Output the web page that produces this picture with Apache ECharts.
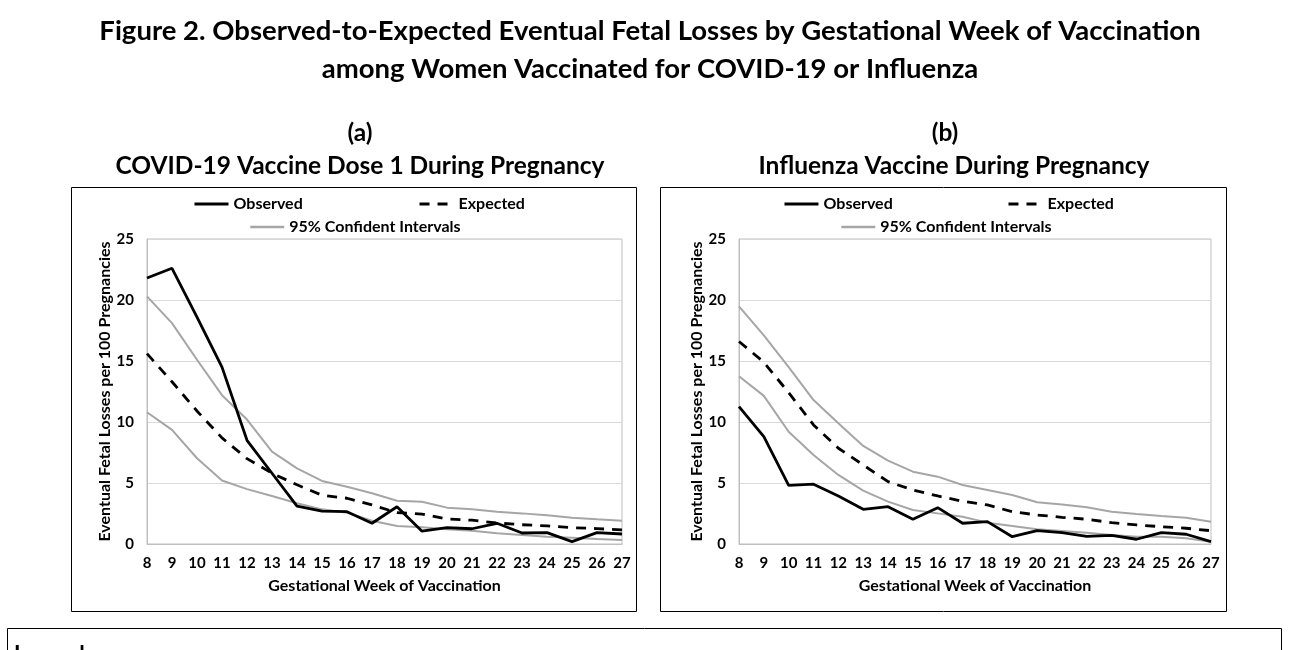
<!DOCTYPE html>
<html><head><meta charset="utf-8">
<script src="https://cdn.jsdelivr.net/npm/echarts@6/dist/echarts.min.js"></script>
<style>html,body{margin:0;padding:0;background:#fff}#c{width:1300px;height:650px}</style>
</head><body><div id="c"></div>
<script>
const weeks = ['8','9','10','11','12','13','14','15','16','17','18','19','20','21','22','23','24','25','26','27'];
const yTicks = [0, 5, 10, 15, 20, 25];

// (a) COVID-19 vaccine dose 1
const covidObserved = [21.8,22.6,18.6,14.5,8.5,5.8,3.1,2.7,2.65,1.7,3.05,1.05,1.35,1.25,1.7,0.9,0.93,0.2,0.93,0.82];
const covidExpected = [15.6,13.3,10.9,8.7,7.0,5.8,4.85,4.0,3.75,3.2,2.57,2.45,2.05,1.95,1.72,1.58,1.48,1.34,1.26,1.15];
const covidUpper    = [20.3,18.1,15.1,12.2,10.2,7.57,6.2,5.17,4.7,4.16,3.55,3.47,2.98,2.84,2.65,2.51,2.35,2.16,2.03,1.91];
const covidLower    = [10.8,9.35,7.03,5.2,4.5,3.94,3.34,2.84,2.57,1.91,1.48,1.37,1.2,1.09,0.88,0.74,0.6,0.52,0.41,0.33];

// (b) Influenza vaccine
const fluObserved = [11.26,8.8,4.8,4.9,3.94,2.84,3.06,2.03,2.98,1.7,1.83,0.6,1.09,0.93,0.63,0.71,0.39,0.93,0.8,0.19];
const fluExpected = [16.6,14.9,12.4,9.76,7.85,6.48,5.11,4.43,3.94,3.5,3.2,2.65,2.38,2.19,2.03,1.75,1.56,1.42,1.29,1.09];
const fluUpper    = [19.47,17.1,14.5,11.8,9.9,8.04,6.84,5.93,5.52,4.84,4.43,4.02,3.42,3.23,3.01,2.65,2.46,2.3,2.16,1.83];
const fluLower    = [13.75,12.14,9.2,7.3,5.66,4.38,3.47,2.79,2.51,2.24,1.75,1.48,1.2,1.07,0.93,0.74,0.6,0.6,0.47,0.19];

const FONT = 'Lato';
const GRAY = '#a6a6a6';
const GRID = '#d9d9d9';
const AXIS = '#bfbfbf';

const chart = echarts.init(document.getElementById('c'), null, {renderer: 'canvas'});

function xAxis(i) {
  return {
    type: 'category', gridIndex: i, data: weeks, boundaryGap: false,
    axisTick: {show: false},
    axisLine: {lineStyle: {color: AXIS, width: 1}},
    axisLabel: {color: '#000', fontFamily: FONT, fontWeight: 'bold', fontSize: 15, margin: 12, interval: 0},
    name: 'Gestational Week of Vaccination', nameLocation: 'middle', nameGap: 34,
    nameTextStyle: {color: '#000', fontFamily: FONT, fontWeight: 'bold', fontSize: 16}
  };
}
function yAxis(i) {
  return {
    type: 'value', gridIndex: i, min: yTicks[0], max: yTicks[yTicks.length - 1], interval: 5,
    axisTick: {show: false},
    axisLine: {show: true, lineStyle: {color: AXIS, width: 1}},
    splitLine: {lineStyle: {color: GRID, width: 1}},
    axisLabel: {color: '#000', fontFamily: FONT, fontWeight: 'bold', fontSize: 15, margin: 13},
    name: 'Eventual Fetal Losses per 100 Pregnancies', nameLocation: 'middle', nameGap: 34,
    nameTextStyle: {color: '#000', fontFamily: FONT, fontWeight: 'bold', fontSize: 16}
  };
}
function seriesFor(i, obs, exp, up, lo) {
  const base = {type: 'line', xAxisIndex: i, yAxisIndex: i, symbol: 'none', showSymbol: false, silent: true};
  return [
    Object.assign({}, base, {name: '95% Confident Intervals', data: up, z: 2, lineStyle: {color: GRAY, width: 2}, itemStyle: {color: GRAY}}),
    Object.assign({}, base, {name: '95% Confident Intervals', data: lo, z: 2, lineStyle: {color: GRAY, width: 2}, itemStyle: {color: GRAY}}),
    Object.assign({}, base, {name: 'Expected', data: exp, z: 3, lineStyle: {color: '#000', width: 2.8, type: [10, 8]}, itemStyle: {color: '#000'}}),
    Object.assign({}, base, {name: 'Observed', data: obs, z: 4, lineStyle: {color: '#000', width: 2.8}, itemStyle: {color: '#000'}})
  ];
}
function legendItem(name, left, top, lw) {
  return {
    data: [name], left: left, top: top, itemWidth: 34, itemHeight: 14, padding: 0,
    selectedMode: false,
    itemStyle: {opacity: 0},
    lineStyle: {width: lw},
    textStyle: {color: '#000', fontFamily: FONT, fontWeight: 'bold', fontSize: 16}
  };
}

const titleStyle = {fontFamily: FONT, fontWeight: 'bold', fill: '#000', textAlign: 'center', textVerticalAlign: 'middle'};

chart.setOption({
  animation: false,
  backgroundColor: '#fff',
  grid: [
    {left: 147, right: 678, top: 239, bottom: 106, show: true, borderColor: AXIS, borderWidth: 1, backgroundColor: 'transparent'},
    {left: 739, right: 89, top: 239, bottom: 106, show: true, borderColor: AXIS, borderWidth: 1, backgroundColor: 'transparent'}
  ],
  xAxis: [xAxis(0), xAxis(1)],
  yAxis: [yAxis(0), yAxis(1)],
  legend: [
    legendItem('Observed', 193, 196, 3),
    legendItem('Expected', 418, 196, 3),
    legendItem('95% Confident Intervals', 249, 219, 2.5),
    legendItem('Observed', 783, 196, 3),
    legendItem('Expected', 1007, 196, 3),
    legendItem('95% Confident Intervals', 840, 219, 2.5)
  ],
  series: [].concat(
    seriesFor(0, covidObserved, covidExpected, covidUpper, covidLower),
    seriesFor(1, fluObserved, fluExpected, fluUpper, fluLower)
  ),
  graphic: [
    {type: 'text', x: 650, y: 31, style: Object.assign({}, titleStyle, {text: 'Figure 2. Observed-to-Expected Eventual Fetal Losses by Gestational Week of Vaccination', fontSize: 27.5})},
    {type: 'text', x: 650, y: 69, style: Object.assign({}, titleStyle, {text: 'among Women Vaccinated for COVID-19 or Influenza', fontSize: 27.5})},
    {type: 'text', x: 360, y: 133, style: Object.assign({}, titleStyle, {text: '(a)', fontSize: 24.5})},
    {type: 'text', x: 360, y: 166, style: Object.assign({}, titleStyle, {text: 'COVID-19 Vaccine Dose 1 During Pregnancy', fontSize: 24.5})},
    {type: 'text', x: 945, y: 133, style: Object.assign({}, titleStyle, {text: '(b)', fontSize: 24.5})},
    {type: 'text', x: 954, y: 166, style: Object.assign({}, titleStyle, {text: 'Influenza Vaccine During Pregnancy', fontSize: 24.5})},
    {type: 'rect', shape: {x: 71.5, y: 187.5, width: 565, height: 424}, style: {fill: 'none', stroke: '#000', lineWidth: 1}, z: -1},
    {type: 'rect', shape: {x: 660.5, y: 187.5, width: 566, height: 424}, style: {fill: 'none', stroke: '#000', lineWidth: 1}, z: -1},
    {type: 'rect', shape: {x: 7.5, y: 628.5, width: 1274, height: 40}, style: {fill: 'none', stroke: '#000', lineWidth: 1}, z: -1},
    {type: 'text', x: 14, y: 644, style: {text: 'Legend:', fontFamily: FONT, fontWeight: 'bold', fontSize: 22, fill: '#000', textVerticalAlign: 'top'}}
  ]
});
</script></body></html>
